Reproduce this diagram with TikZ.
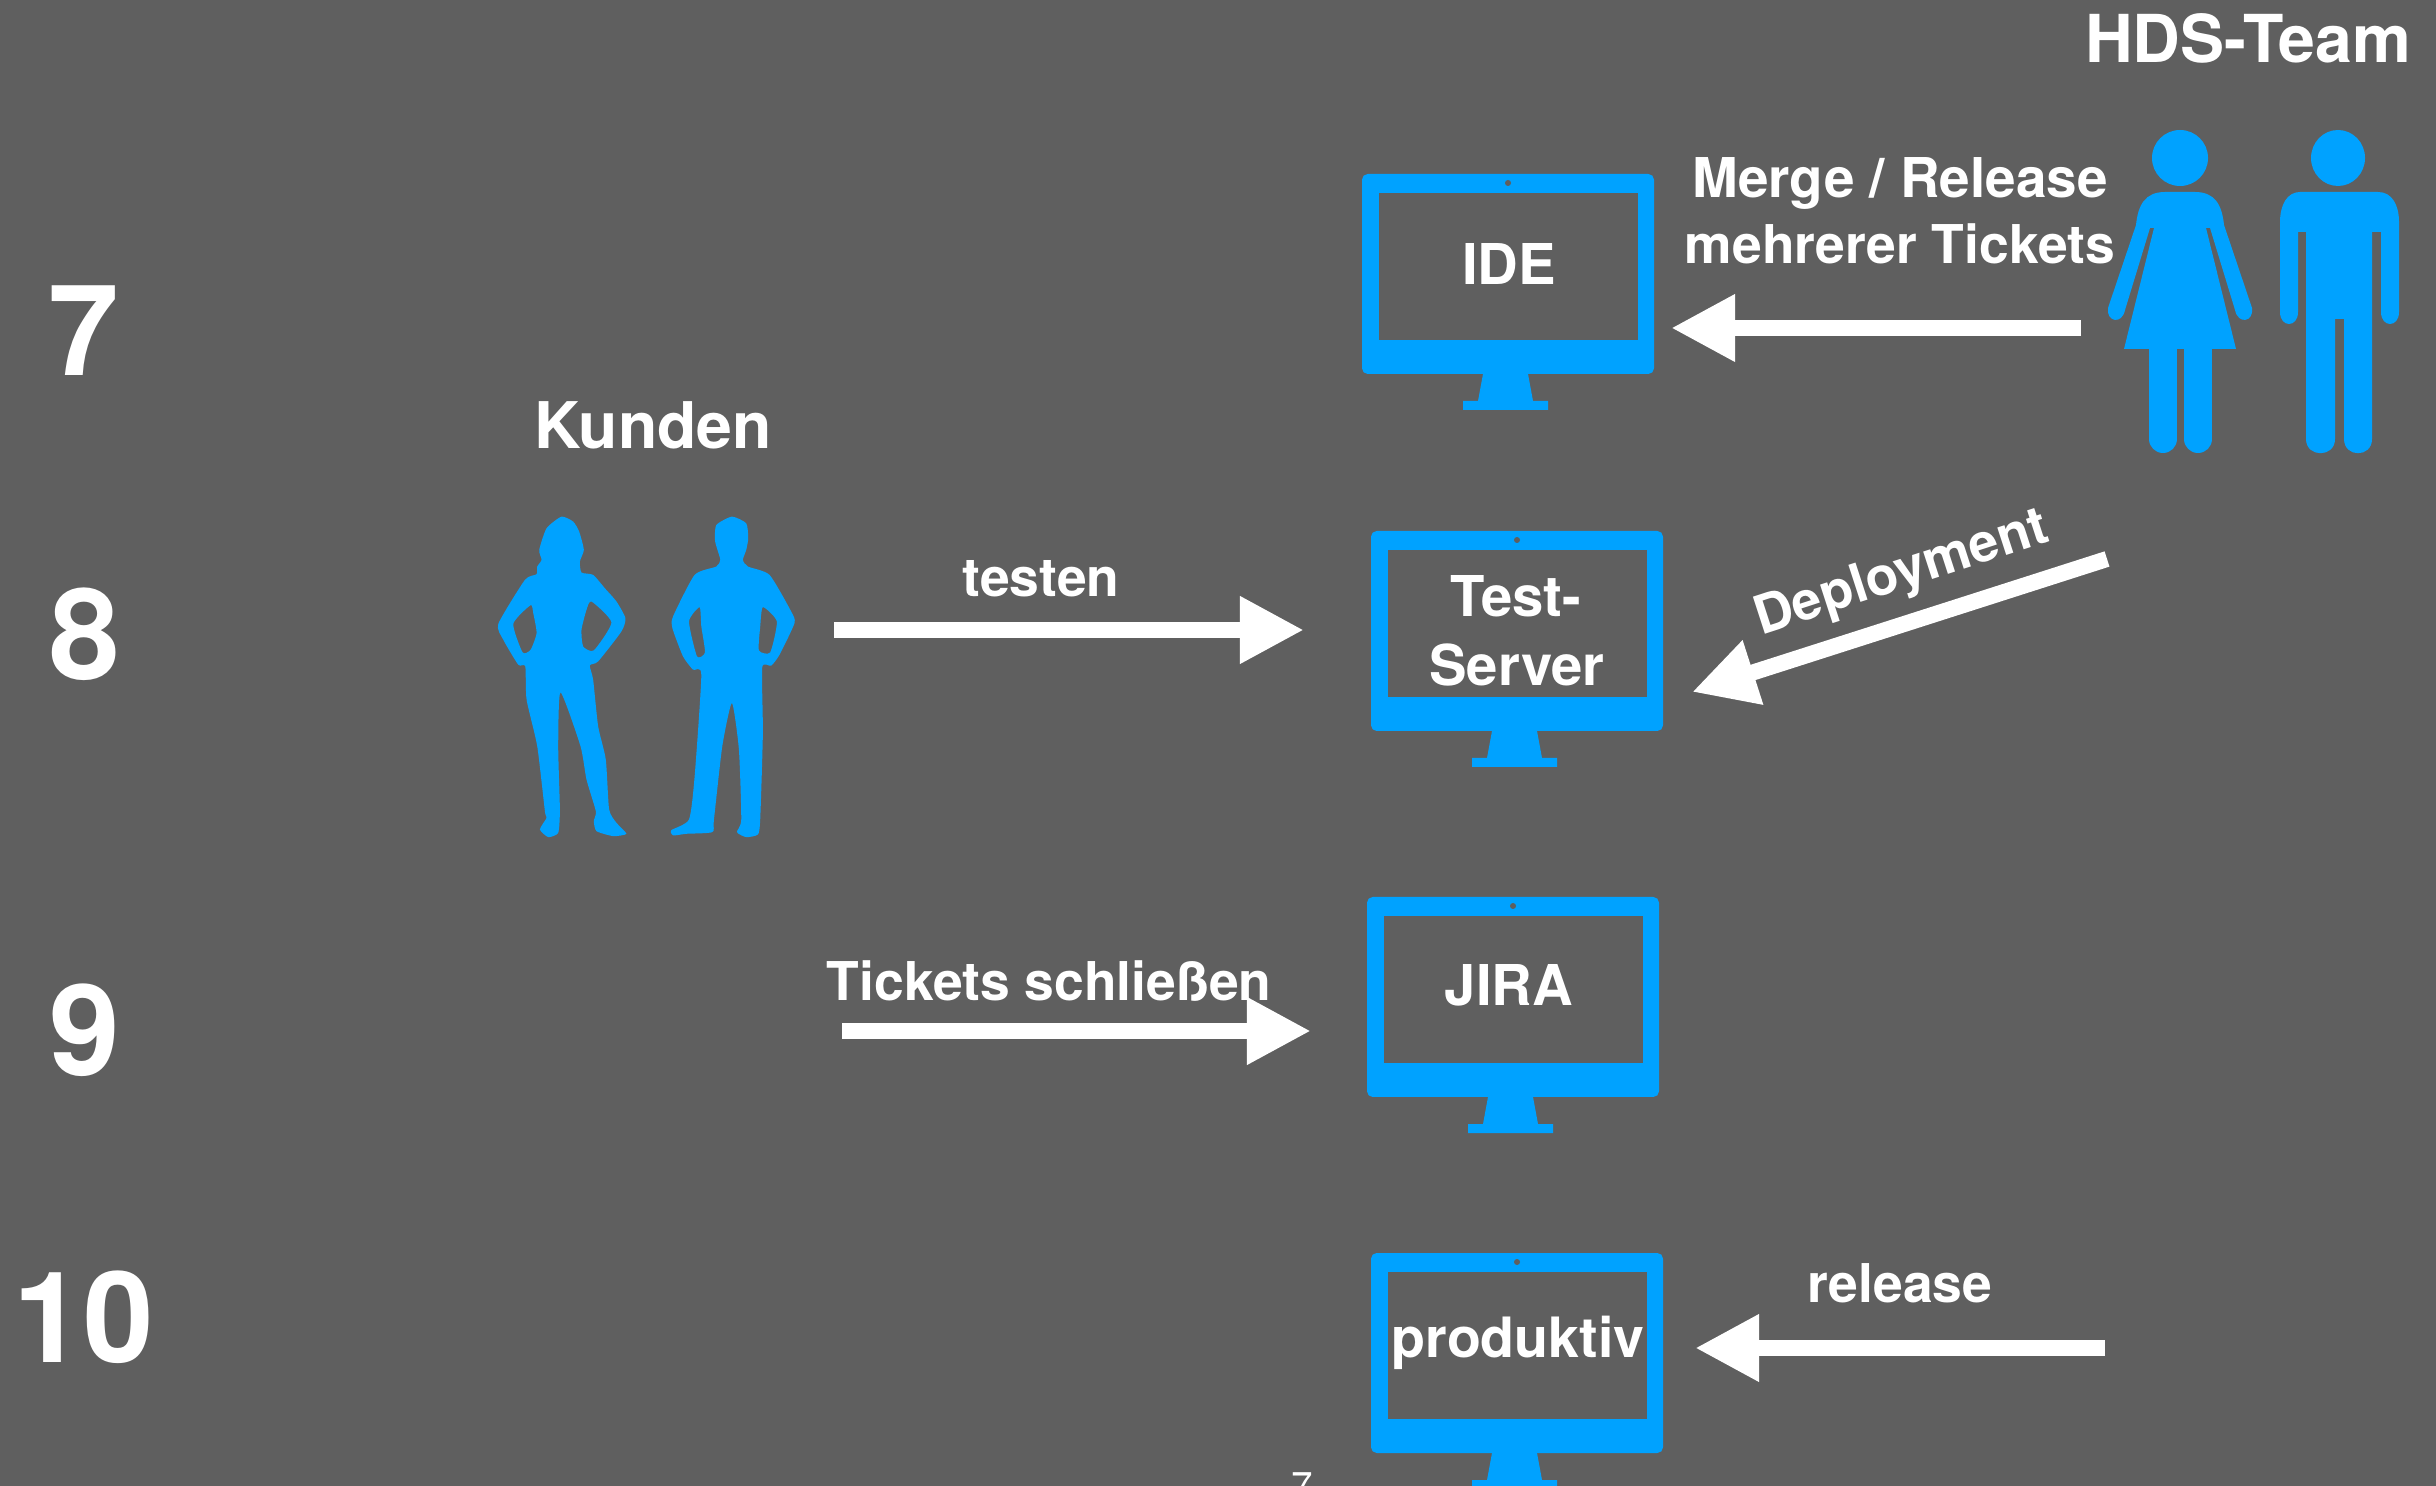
\documentclass[tikz,border=0pt]{standalone}
\usepackage{fontspec}
\setmainfont{TeX Gyre Heros}
\usetikzlibrary{arrows.meta}
\definecolor{slidegray}{HTML}{5F5F5F}
\definecolor{iconblue}{HTML}{00A2FF}
\tikzset{
  label/.style={text=white,font=\fontsize{16}{18}\selectfont\bfseries,inner sep=0pt},
  arrowlabel/.style={text=white,font=\fontsize{15.2}{18}\selectfont\bfseries,inner sep=0pt},
  headlabel/.style={text=white,font=\fontsize{18.3}{20}\selectfont\bfseries,inner sep=0pt},
  bignum/.style={text=white,font=\fontsize{36}{40}\selectfont\bfseries,inner sep=0pt},
  bigarrow/.style={draw=white,line width=0.16cm,-{Triangle[length=0.64cm,width=0.63cm]}},
  icon/.style={fill=iconblue,draw=none}
}
\begin{document}
\begin{tikzpicture}[x=0.01cm,y=-0.01cm]
  \useasboundingbox (0,0) rectangle (2436,1486);
  \clip (0,0) rectangle (2436,1486);
  \fill[slidegray] (0,0) rectangle (2436,1486);
  % monitors
  \foreach \x/\y in {1362/174,1371/531,1367/897,1371/1253}{
    \begin{scope}[shift={(\x,\y)}]
      \fill[icon,even odd rule,rounded corners=1.6pt] (0,0) rectangle (292,200);
      \fill[slidegray] (17,19) rectangle (276,166);
      \fill[slidegray] (146,9) circle (3);
      \fill[icon] (121,200) -- (166,200) -- (171,227) -- (186,227) -- (186,236) -- (101,236) -- (101,227) -- (116,227) -- cycle;
    \end{scope}
  }
  % numbers
  \node[bignum] (seven) at (84,331) {7};
  \node[bignum] (eight) at (85,634) {8};
  \node[bignum] (nine) at (85,1030) {9};
  \node[bignum] (ten) at (84,1317) {10};
  % monitor texts
  \node[label] (ide) at (1509,264) {IDE};
  \node[label] (test) at (1516,596) {Test-};
  \node[label] (server) at (1517,665) {Server};
  \node[label] (jira) at (1509,985) {JIRA};
  \node[label,font=\fontsize{15.8}{18}\selectfont\bfseries] (prod) at (1518,1343) {produktiv};
  % other labels
  \node[headlabel,font=\fontsize{18.8}{20}\selectfont\bfseries] (hds) at (2248,38) {HDS-Team};
  \node[headlabel] (kunden) at (653,425) {Kunden};
  \node[arrowlabel,font=\fontsize{15.6}{18}\selectfont\bfseries] (merge) at (1900,183) {Merge / Release};
  \node[arrowlabel] (mehrerer) at (1900,244) {mehrerer Tickets};
  \node[arrowlabel] (testen) at (1041,579) {testen};
  \node[arrowlabel] (schliessen) at (1049,981) {Tickets schließen};
  \node[arrowlabel] (release) at (1900,1283) {release};
  \node[arrowlabel,rotate=18] (deploy) at (1902,575) {Deployment};
  \node[text=white,font=\fontsize{11}{12}\selectfont,inner sep=0pt] (page) at (1302,1486) {7};
  % arrows
  \coordinate (a1) at (2081,328); \coordinate (b1) at (1671,328);
  \coordinate (a2) at (2107,559); \coordinate (b2) at (1692,692);
  \coordinate (a3) at (834,630); \coordinate (b3) at (1304,630);
  \coordinate (a4) at (842,1031); \coordinate (b4) at (1311,1031);
  \coordinate (a5) at (2105,1348); \coordinate (b5) at (1695,1348);
  \foreach \a/\b in {a1/b1,a2/b2,a3/b3,a4/b4,a5/b5}
    \draw[bigarrow] (\a) -- (\b);
  % team woman
  \fill[icon] (2180,158) ellipse (28 and 28);
  \fill[icon] (2165,192) -- (2195,192) .. controls (2215,192) and (2222,205) .. (2224,225) -- (2252,308) .. controls (2254,322) and (2238,325) .. (2235,310) -- (2210,228) -- (2206,228) -- (2236,349) -- (2124,349) -- (2154,228) -- (2150,228) -- (2125,310) .. controls (2122,325) and (2106,322) .. (2108,308) -- (2136,225) .. controls (2138,205) and (2145,192) .. (2165,192) -- cycle;
  \draw[iconblue,line width=0.28cm,line cap=round] (2163,345) -- (2163,439);
  \draw[iconblue,line width=0.28cm,line cap=round] (2198,345) -- (2198,439);
  % team man
  \fill[icon] (2338,158) ellipse (27 and 28);
  \fill[icon] (2300,192) -- (2378,192) .. controls (2392,192) and (2399,205) .. (2399,222) -- (2399,312) .. controls (2399,328) and (2381,328) .. (2381,312) -- (2381,232) -- (2372,232) -- (2372,439) .. controls (2372,458) and (2344,458) .. (2344,439) -- (2344,319) -- (2335,319) -- (2335,439) .. controls (2335,458) and (2306,458) .. (2306,439) -- (2306,232) -- (2298,232) -- (2298,312) .. controls (2298,328) and (2280,328) .. (2280,312) -- (2280,222) .. controls (2280,205) and (2287,192) .. (2300,192) -- cycle;
  % customers, traced in 3x crop coordinates
  \begin{scope}[shift={(480,500)},x=0.00333cm,y=-0.00333cm]
    \fill[icon,even odd rule] plot[smooth cycle,tension=0.35] coordinates {(245,50) (280,65) (298,95) (312,150) (300,185) (305,218) (340,225) (375,265) (410,305) (437,355) (425,395) (355,485) (330,497) (340,540) (355,680) (378,780) (388,930) (410,970) (440,1003) (400,1010) (350,995) (342,965) (348,935) (320,840) (302,740) (242,578) (235,740) (240,930) (235,1000) (205,1013) (180,990) (200,955) (195,935) (172,740) (140,600) (136,500) (115,495) (70,420) (55,372) (135,240) (170,223) (172,200) (185,180) (178,150) (200,85)}
      plot[smooth cycle,tension=0.35] coordinates {(152,316) (100,372) (128,458) (152,450) (170,400) (160,340)}
      plot[smooth cycle,tension=0.35] coordinates {(335,305) (395,368) (342,452) (310,440) (305,390) (320,330)};
    \fill[icon,even odd rule] plot[smooth cycle,tension=0.35] coordinates {(757,50) (800,70) (806,115) (800,150) (790,180) (805,200) (870,225) (935,335) (945,370) (900,465) (875,498) (848,503) (850,700) (842,960) (835,1005) (800,1013) (772,998) (785,960) (778,750) (757,610) (728,740) (703,960) (698,998) (620,1003) (580,1008) (575,992) (628,960) (645,830) (665,525) (640,510) (610,470) (578,385) (580,350) (645,225) (710,200) (722,180) (712,145) (706,120) (710,75)}
      plot[smooth cycle,tension=0.35] coordinates {(660,322) (628,365) (652,470) (676,458) (665,380)}
      plot[smooth cycle,tension=0.35] coordinates {(850,322) (892,365) (872,458) (838,452) (842,380)};
  \end{scope}
\end{tikzpicture}
\end{document}
